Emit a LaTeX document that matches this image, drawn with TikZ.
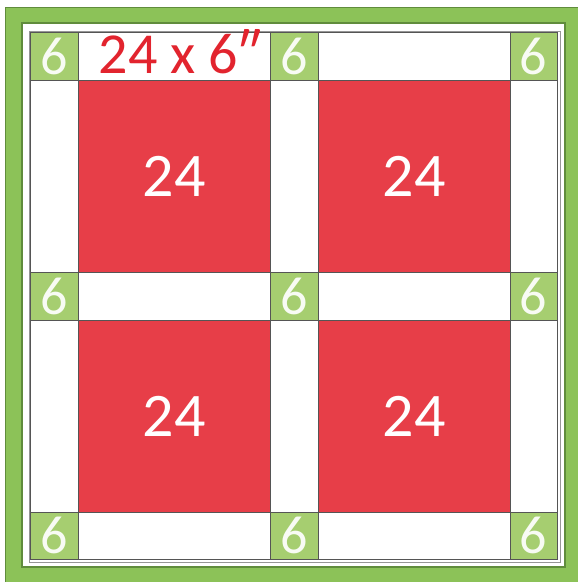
\documentclass[tikz,border=0pt]{standalone}
\usepackage{fontspec}
\setmainfont{Carlito}
\definecolor{blockred}{RGB}{231,62,72}
\definecolor{labelred}{RGB}{226,36,46}
\definecolor{cstone}{RGB}{166,206,112}
\definecolor{bordergreen}{RGB}{140,194,88}
\definecolor{borderedge}{RGB}{96,140,60}
\definecolor{gridgray}{RGB}{85,85,85}
\definecolor{framegray}{RGB}{150,150,150}
\tikzset{
  redblock/.style={fill=blockred, draw=gridgray, line width=0.8pt, minimum width=192pt, minimum height=192pt, inner sep=0pt, text=white, font=\fontsize{62}{62}\selectfont},
  cornerstone/.style={fill=cstone, draw=gridgray, line width=0.8pt, minimum width=48pt, minimum height=48pt, inner sep=0pt, text=white!92!cstone, font=\fontsize{54}{54}\selectfont},
  sash/.style={fill=white, draw=gridgray, line width=0.8pt, inner sep=0pt},
}
\begin{document}
\begin{tikzpicture}[x=1pt,y=-1pt]
\useasboundingbox (0,0) rectangle (578,582);
\clip (0,0) rectangle (578,582);
\fill[white] (0,0) rectangle (578,582);
% green border
\fill[bordergreen, even odd rule] (5,7) rectangle (584,586) (22,23) rectangle (565,567);
\draw[borderedge, line width=0.9pt] (5,7) rectangle (584,586);
\draw[borderedge, line width=1.2pt] (22,23) rectangle (565,567);
% quilt frame
\draw[framegray, line width=0.8pt] (29,31) rectangle (560,562);
% sashing strips
\node[sash, minimum width=192pt, minimum height=48pt] (s1) at (174,56) {};
\node[sash, minimum width=192pt, minimum height=48pt] (s2) at (414,56) {};
\node[sash, minimum width=192pt, minimum height=48pt] (s3) at (174,296) {};
\node[sash, minimum width=192pt, minimum height=48pt] (s4) at (414,296) {};
\node[sash, minimum width=192pt, minimum height=47pt] (s5) at (174,535.5) {};
\node[sash, minimum width=192pt, minimum height=47pt] (s6) at (414,535.5) {};
\node[sash, minimum width=48pt, minimum height=192pt] (v1) at (54,176) {};
\node[sash, minimum width=48pt, minimum height=192pt] (v2) at (294,176) {};
\node[sash, minimum width=47pt, minimum height=192pt] (v3) at (533.5,176) {};
\node[sash, minimum width=48pt, minimum height=192pt] (v4) at (54,416) {};
\node[sash, minimum width=48pt, minimum height=192pt] (v5) at (294,416) {};
\node[sash, minimum width=47pt, minimum height=192pt] (v6) at (533.5,416) {};
% red blocks
\node[redblock] (b1) at (174,176) {24};
\node[redblock] (b2) at (414,176) {24};
\node[redblock] (b3) at (174,416) {24};
\node[redblock] (b4) at (414,416) {24};
% cornerstones
\node[cornerstone] (c11) at (54,56) {6};
\node[cornerstone] (c12) at (294,56) {6};
\node[cornerstone, minimum width=47pt] (c13) at (533.5,56) {6};
\node[cornerstone] (c21) at (54,296) {6};
\node[cornerstone] (c22) at (294,296) {6};
\node[cornerstone, minimum width=47pt] (c23) at (533.5,296) {6};
\node[cornerstone, minimum height=47pt] (c31) at (54,535.5) {6};
\node[cornerstone, minimum height=47pt] (c32) at (294,535.5) {6};
\node[cornerstone, minimum width=47pt, minimum height=47pt] (c33) at (533.5,535.5) {6};
% label
\node[anchor=base, text=labelred, font=\fontsize{58}{58}\selectfont, inner sep=0pt] (lbl) at (180,73) {24 x 6″};
\end{tikzpicture}
\end{document}
